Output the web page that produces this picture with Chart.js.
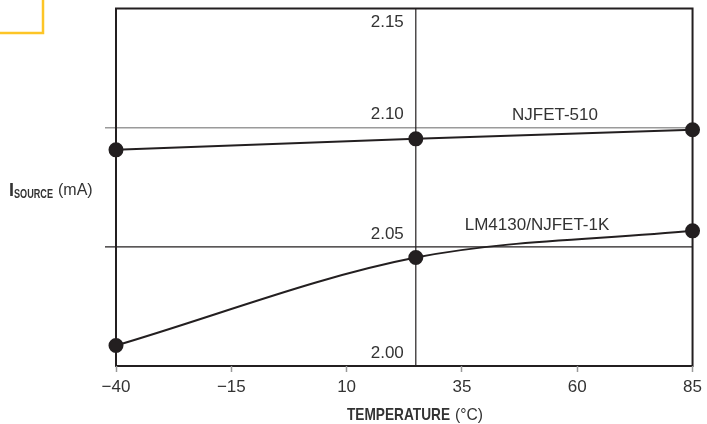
<!DOCTYPE html>
<html>
<head>
<meta charset="utf-8">
<script src="https://cdn.jsdelivr.net/npm/chart.js@4.4.1/dist/chart.umd.min.js"></script>
<style>
    body { margin: 0; background: #fff; }
    #box { width: 707px; height: 424px; position: relative; }
</style>
</head>
<body>
<div id="box"><canvas id="chartIsource"></canvas></div>
<script>
const temperaturas = [-40, 25, 85]
const njfet510 = [2.0907, 2.0953, 2.0991]
const lm4130 = [2.0086, 2.0455, 2.0567]
const xTicks = [-40, -15, 10, 35, 60, 85]
const yTicks = [2.00, 2.05, 2.10, 2.15]
const linhaVertical = 25
const nomesSeries = ['NJFET-510', 'LM4130/NJFET-1K']

function pontos(lista) {
    let saida = []
    for (let i = 0; i < lista.length; i++) {
        saida.push({ x: temperaturas[i], y: lista[i] })
    }
    return saida
}

const cor = '#231f20'
const corTexto = '#333'

// draws the box, the grid lines, y labels and axis titles
const extras = {
    id: 'extras',
    beforeDraw(chart) {
        const ctx = chart.ctx
        const a = chart.chartArea
        const x = chart.scales.x
        const y = chart.scales.y
        ctx.save()

        // yellow corner box
        ctx.strokeStyle = '#fdc526'
        ctx.lineWidth = 2.5
        ctx.strokeRect(-10, -10, 53, 43)

        // horizontal lines
        ctx.lineWidth = 1.5
        ctx.strokeStyle = '#9a9a9a'
        ctx.beginPath()
        ctx.moveTo(a.left - 11, y.getPixelForValue(2.10))
        ctx.lineTo(a.right, y.getPixelForValue(2.10))
        ctx.stroke()
        ctx.lineWidth = 1.2
        ctx.strokeStyle = cor
        ctx.beginPath()
        ctx.moveTo(a.left - 11, y.getPixelForValue(2.05))
        ctx.lineTo(a.right, y.getPixelForValue(2.05))
        ctx.stroke()

        // vertical line
        const xv = x.getPixelForValue(linhaVertical)
        ctx.beginPath()
        ctx.moveTo(xv, a.top)
        ctx.lineTo(xv, a.bottom)
        ctx.stroke()

        // plot frame
        ctx.lineWidth = 2
        ctx.strokeRect(a.left, a.top, a.right - a.left, a.bottom - a.top)

        // y labels next to the vertical line
        ctx.fillStyle = corTexto
        ctx.font = '17px "Liberation Sans", Arial, sans-serif'
        ctx.textAlign = 'right'
        ctx.textBaseline = 'middle'
        for (let i = 0; i < yTicks.length; i++) {
            const v = yTicks[i]
            const off = v === y.max ? 14 : -13
            ctx.fillText(v.toFixed(2), xv - 12, y.getPixelForValue(v) + off)
        }

        // series names
        ctx.textAlign = 'center'
        ctx.fillText(nomesSeries[0], 555, y.getPixelForValue(2.10) - 12)
        ctx.fillText(nomesSeries[1], 537, y.getPixelForValue(2.05) - 22)

        // y title
        ctx.textAlign = 'left'
        ctx.textBaseline = 'alphabetic'
        ctx.font = 'bold 18px "Liberation Sans", Arial, sans-serif'
        ctx.fillText('I', 9, 196)
        ctx.font = 'bold 12px "Liberation Sans", Arial, sans-serif'
        ctx.fillText('SOURCE', 14, 198, 39)
        ctx.font = '16px "Liberation Sans", Arial, sans-serif'
        ctx.fillText('(mA)', 58, 195)

        // x title
        ctx.font = 'bold 17px "Liberation Sans", Arial, sans-serif'
        ctx.fillText('TEMPERATURE', 347, 420, 103)
        ctx.font = '16px "Liberation Sans", Arial, sans-serif'
        ctx.fillText('(°C)', 455, 420, 28)

        ctx.restore()
    }
}

document.addEventListener('DOMContentLoaded', () => {
    const ctxChart = document.getElementById('chartIsource')

    new Chart(ctxChart, {
        type: 'scatter',
        data: {
            datasets: [
                {
                    label: nomesSeries[0],
                    data: pontos(njfet510),
                    showLine: true,
                    clip: false,
                    borderColor: cor,
                    backgroundColor: cor,
                    borderWidth: 2,
                    pointRadius: 6.5,
                    pointHoverRadius: 6.5
                },
                {
                    label: nomesSeries[1],
                    data: pontos(lm4130),
                    showLine: true,
                    clip: false,
                    cubicInterpolationMode: 'monotone',
                    borderColor: cor,
                    backgroundColor: cor,
                    borderWidth: 2,
                    pointRadius: 6.5,
                    pointHoverRadius: 6.5
                }
            ]
        },
        options: {
            responsive: true,
            maintainAspectRatio: false,
            animation: false,
            layout: {
                padding: { left: 116, right: 13, top: 8, bottom: 0 }
            },
            plugins: {
                legend: { display: false },
                tooltip: { enabled: false }
            },
            scales: {
                x: {
                    type: 'linear',
                    min: xTicks[0],
                    max: xTicks[xTicks.length - 1],
                    afterBuildTicks: (s) => {
                        s.ticks = xTicks.map(v => ({ value: v }))
                    },
                    afterFit: (s) => {
                        s.height = 58
                    },
                    ticks: {
                        color: corTexto,
                        font: { family: '"Liberation Sans", Arial, sans-serif', size: 17 },
                        padding: 5,
                        maxRotation: 0,
                        callback: (v) => String(v).replace('-', '\u2212')
                    },
                    grid: {
                        drawOnChartArea: false,
                        drawTicks: true,
                        tickLength: 6,
                        tickColor: '#999',
                        tickWidth: 1.5
                    },
                    border: { display: false }
                },
                y: {
                    display: false,
                    min: yTicks[0],
                    max: yTicks[yTicks.length - 1]
                }
            }
        },
        plugins: [extras]
    })
})
</script>
</body>
</html>
